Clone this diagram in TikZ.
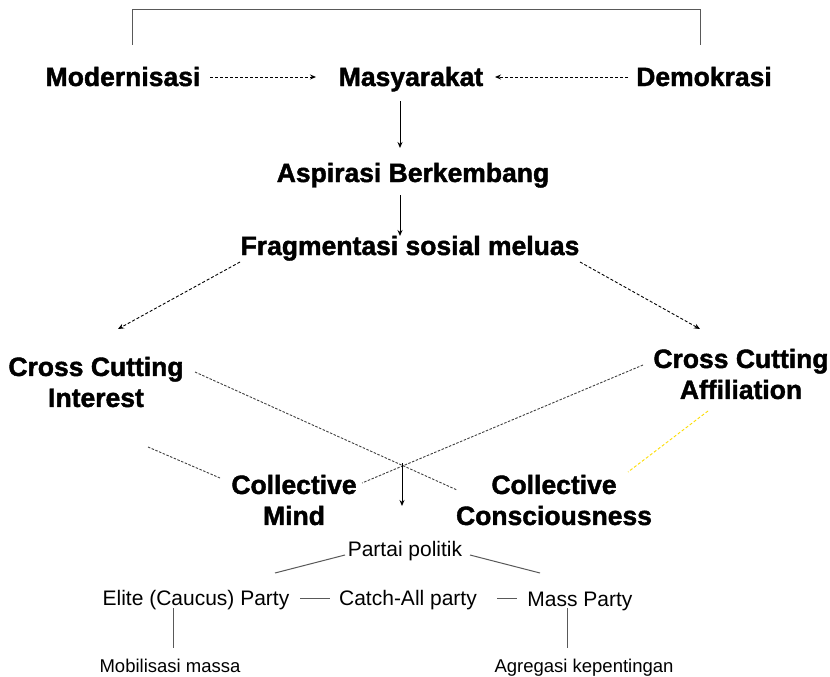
\documentclass[tikz,border=0pt]{standalone}
\usepackage{fontspec}
\setmainfont{Liberation Sans}
\newfontfamily\heavyfont[FakeBold=1.6]{Liberation Sans Bold}
\usetikzlibrary{arrows.meta}
\begin{document}
\begin{tikzpicture}[x=1pt,y=-1pt,
  big/.style={font=\fontsize{26.5}{31}\heavyfont, inner sep=0pt, align=center},
  mid/.style={font=\fontsize{21}{24}\selectfont, inner sep=0pt},
  small/.style={font=\fontsize{18.5}{21}\selectfont, inner sep=0pt},
  solidarrow/.style={draw=black, line width=1pt, -{Stealth[length=6pt,width=5pt]}},
  dasharrow/.style={draw=black, line width=0.9pt, dash pattern=on 3pt off 2pt, -{Stealth[length=6pt,width=5pt]}},
  dotline/.style={draw=black!75, line width=0.9pt, dash pattern=on 2.5pt off 1.5pt},
  yellowline/.style={draw=yellow!80!orange, line width=0.9pt, dash pattern=on 3pt off 2pt},
  plain/.style={draw=black!65, line width=1pt},
]
\useasboundingbox (0,0) rectangle (830,677);
\fill[white] (0,0) rectangle (830,677);

% nodes
\node[big, anchor=base] (mod) at (123,86) {Modernisasi};
\node[big, anchor=base] (mas) at (411,86) {Masyarakat};
\node[big, anchor=base] (dem) at (704,86) {Demokrasi};
\node[big, anchor=base] (asp) at (413,182) {Aspirasi Berkembang};
\node[big, anchor=base] (fra) at (410,255) {Fragmentasi sosial meluas};
\node[big] (cci) at (96,382) {Cross Cutting\\Interest};
\node[big] (cca) at (741,374) {Cross Cutting\\Affiliation};
\node[big] (cm)  at (294,500) {Collective\\Mind};
\node[big] (cc)  at (554,500) {Collective\\Consciousness};
\node[mid, anchor=base] (pp)  at (405,556) {Partai politik};
\node[mid, anchor=base] (eli) at (196,605) {Elite (Caucus) Party};
\node[mid, anchor=base] (cat) at (408,605) {Catch-All party};
\node[mid, anchor=base] (mp)  at (580,606) {Mass Party};
\node[small, anchor=base] (mob) at (170,672) {Mobilisasi massa};
\node[small, anchor=base] (agr) at (584,672) {Agregasi kepentingan};

% top bracket
\coordinate (bl) at (132,45);
\coordinate (br) at (700,45);
\draw[plain] (bl) -- (132,10) -- (700,10) -- (br);

% dashed arrows into Masyarakat
\coordinate (m1) at (210,77);
\coordinate (m2) at (316,77);
\coordinate (d1) at (628,77);
\coordinate (d2) at (495,77);
\draw[dasharrow] (m1) -- (m2);
\draw[dasharrow] (d1) -- (d2);

% solid down arrows
\draw[solidarrow] (400,101) -- (400,148);
\draw[solidarrow] (400,195) -- (400,236);

% from Fragmentasi
\coordinate (fl) at (240,262);
\coordinate (fr) at (580,262);
\coordinate (il) at (118,329);
\coordinate (ir) at (700,329);
\draw[dasharrow] (fl) -- (il);
\draw[dasharrow] (fr) -- (ir);

% crossing dotted lines
\coordinate (x1) at (195,372);
\coordinate (x2) at (457,490);
\coordinate (y1) at (643,365);
\coordinate (y2) at (362,483);
\draw[dotline] (x1) -- (x2);
\draw[dotline] (y1) -- (y2);
\coordinate (s1) at (148,447);
\coordinate (s2) at (220,478);
\draw[dotline] (s1) -- (s2);
\coordinate (g1) at (708,411);
\coordinate (g2) at (628,472);
\draw[yellowline] (g1) -- (g2);

% arrow from crossing
\coordinate (xc) at (402,463);
\draw[solidarrow] (xc) -- (402,506);

% party tree
\draw[plain] (275,573) -- (345,555);
\draw[plain] (470,555) -- (540,573);
\draw[plain] (300,598) -- (330,598);
\draw[plain] (497,598) -- (517,598);
\draw[plain] (173,608) -- (173,648);
\draw[plain] (567,608) -- (567,648);
\end{tikzpicture}
\end{document}
